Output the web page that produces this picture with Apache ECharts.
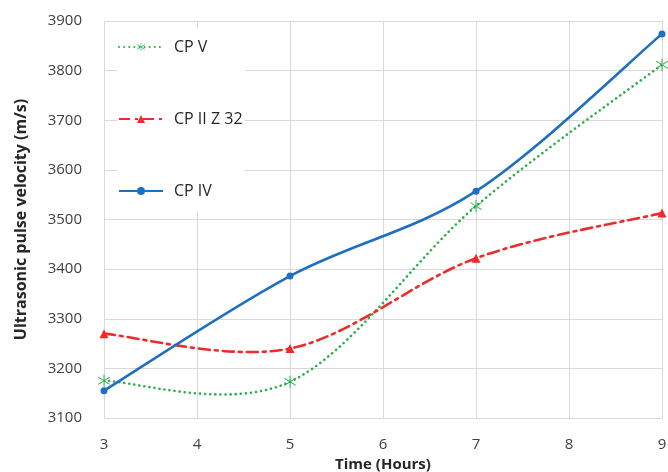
<!DOCTYPE html>
<html>
<head>
<meta charset="utf-8">
<script src="https://cdn.jsdelivr.net/npm/echarts@6/dist/echarts.min.js"></script>
<style>
  html, body { margin: 0; padding: 0; background: #fff; }
  #main { width: 668px; height: 472px; }
</style>
</head>
<body>
<div id="main"></div>
<script>
// 数据
var hours = [3, 5, 7, 9];
var cpV = [3175, 3173, 3527, 3812];
var cpIIZ32 = [3270, 3240, 3422, 3513];
var cpIV = [3155, 3386, 3557, 3874];

var GREEN = '#2eae4c', RED = '#ee2a2a', BLUE = '#1f6fc1';
var labelFont = '"Open Sans", "Noto Sans", sans-serif';

// 星号标记
var STAR = 'path://M-0.7,-10L0.7,-10L0.7,10L-0.7,10Z M-9.0,-5.4L-8.2,-6.6L9.0,5.4L8.2,6.6Z M-9.0,5.4L-8.2,6.6L9.0,-5.4L8.2,-6.6Z';

function pairs(xs, ys) {
  return xs.map(function (x, i) { return [x, ys[i]]; });
}

// 平滑曲线（类似 Excel 的 Catmull-Rom），用坐标轴换算像素
function curve(name, ys, color, dash, z) {
  return {
    type: 'custom',
    name: name + ' curve',
    data: [[hours[0], ys[0]]],
    z: z,
    clip: true,
    renderItem: function (params, api) {
      var p = hours.map(function (h, i) { return api.coord([h, ys[i]]); });
      var d = 'M' + p[0][0] + ',' + p[0][1];
      for (var i = 0; i < p.length - 1; i++) {
        var p0 = p[Math.max(i - 1, 0)], p1 = p[i], p2 = p[i + 1], p3 = p[Math.min(i + 2, p.length - 1)];
        var c1x = p1[0] + (p2[0] - p0[0]) / 6, c1y = p1[1] + (p2[1] - p0[1]) / 6;
        var c2x = p2[0] - (p3[0] - p1[0]) / 6, c2y = p2[1] - (p3[1] - p1[1]) / 6;
        d += 'C' + c1x + ',' + c1y + ',' + c2x + ',' + c2y + ',' + p2[0] + ',' + p2[1];
      }
      return {
        type: 'path',
        shape: { pathData: d },
        style: { fill: 'none', stroke: color, lineWidth: 2.6, lineDash: dash, lineCap: 'round' }
      };
    }
  };
}

var myChart = echarts.init(document.getElementById('main'));
myChart.setOption({
  animation: false,
  grid: { left: 104, right: 6, top: 21, bottom: 54, outerBoundsMode: 'none' },
  legend: {
    orient: 'vertical',
    left: 117,
    top: 28,
    backgroundColor: '#fff',
    padding: [11, 2, 12, 1],
    itemWidth: 44,
    itemHeight: 10,
    itemGap: 56,
    textStyle: { fontSize: 16, color: '#262626', fontFamily: labelFont, padding: [0, 0, 0, 6] },
    data: [
      { name: 'CP V', lineStyle: { opacity: 1 } },
      { name: 'CP II Z 32', lineStyle: { opacity: 1 } },
      { name: 'CP IV', lineStyle: { opacity: 1 } }
    ]
  },
  xAxis: {
    type: 'value',
    min: 3,
    max: 9,
    interval: 1,
    name: 'Time (Hours)',
    nameLocation: 'middle',
    nameGap: 37,
    nameTextStyle: { fontSize: 15, fontWeight: 'bold', color: '#262626', fontFamily: labelFont },
    axisLine: { lineStyle: { color: '#d9d9d9' } },
    axisTick: { show: false },
    axisLabel: { fontSize: 15, color: '#404040', margin: 19, fontFamily: labelFont },
    splitLine: { show: true, lineStyle: { color: '#d9d9d9' } }
  },
  yAxis: {
    type: 'value',
    min: 3100,
    max: 3900,
    interval: 100,
    name: 'Ultrasonic pulse velocity (m/s)',
    nameLocation: 'middle',
    nameGap: 75,
    nameTextStyle: { fontSize: 16, fontWeight: 'bold', color: '#262626', fontFamily: labelFont },
    axisLine: { show: false },
    axisTick: { show: false },
    axisLabel: { fontSize: 15, color: '#404040', margin: 22, fontFamily: labelFont, formatter: function (v) { return String(v); } },
    splitLine: { lineStyle: { color: '#d9d9d9' } }
  },
  series: [
    curve('CP V', cpV, GREEN, [0.1, 5], 2),
    curve('CP II Z 32', cpIIZ32, RED, [11, 5, 3, 5], 2),
    curve('CP IV', cpIV, BLUE, null, 3),
    {
      name: 'CP V',
      type: 'line',
      data: pairs(hours, cpV),
      symbol: STAR,
      symbolSize: 12,
      lineStyle: { color: GREEN, width: 2.6, type: [0.1, 5], cap: 'round', opacity: 0 },
      itemStyle: { color: GREEN },
      z: 5
    },
    {
      name: 'CP II Z 32',
      type: 'line',
      data: pairs(hours, cpIIZ32),
      symbol: 'triangle',
      symbolSize: 9,
      lineStyle: { color: RED, width: 2.6, type: [11, 5, 3, 5], opacity: 0 },
      itemStyle: { color: RED },
      z: 5
    },
    {
      name: 'CP IV',
      type: 'line',
      data: pairs(hours, cpIV),
      symbol: 'circle',
      symbolSize: 7,
      lineStyle: { color: BLUE, width: 2.6, opacity: 0 },
      itemStyle: { color: BLUE },
      z: 6
    }
  ]
});
</script>
</body>
</html>
